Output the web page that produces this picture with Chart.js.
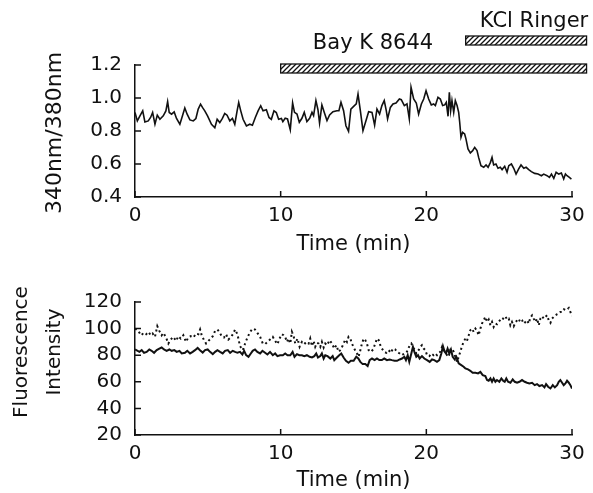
<!DOCTYPE html>
<html>
<head>
<meta charset="utf-8">
<script src="https://cdn.jsdelivr.net/npm/chart.js@4.4.0/dist/chart.umd.min.js"></script>
<style>
  html, body { margin: 0; padding: 0; background: #fff; }
  canvas { display: block; }
</style>
</head>
<body>
<canvas id="ratioChart" width="593" height="260"></canvas>
<canvas id="fluoChart" width="593" height="233"></canvas>
<script>
// top panel: 340/380 ratio
const ratioTime = [
  0.00, 0.16, 0.34, 0.53, 0.68, 0.91, 1.07, 1.21, 1.37, 1.53, 1.71, 1.94, 2.12, 2.24, 2.35, 2.51, 2.69, 2.85, 3.08, 3.26,
  3.42, 3.58, 3.77, 4.00, 4.18, 4.34, 4.50, 4.63, 4.79, 4.98, 5.25, 5.48, 5.64, 5.82, 6.00, 6.16, 6.32, 6.51, 6.69, 6.85,
  7.01, 7.12, 7.26, 7.42, 7.65, 7.88, 8.06, 8.26, 8.45, 8.63, 8.79, 9.02, 9.20, 9.36, 9.54, 9.70, 9.86, 10.05,
  10.15, 10.31, 10.47, 10.66, 10.82, 10.95, 11.12, 11.28, 11.46, 11.62, 11.80, 11.99, 12.15, 12.26, 12.42, 12.56, 12.67, 12.83, 12.99, 13.18,
  13.36, 13.59, 13.86, 14.00, 14.14, 14.32, 14.48, 14.66, 14.82, 15.01, 15.19, 15.31, 15.47, 15.65, 15.86, 16.04, 16.27, 16.45, 16.61, 16.79,
  16.95, 17.11, 17.25, 17.34, 17.53, 17.71, 17.92, 18.15, 18.28, 18.49, 18.67, 18.83, 18.95, 19.13, 19.31, 19.47, 19.66, 19.82, 19.98, 20.16,
  20.34, 20.50, 20.62, 20.80, 20.96, 21.12, 21.26, 21.37, 21.49, 21.58, 21.67, 21.76, 21.88, 21.99, 22.11, 22.22, 22.29, 22.38, 22.49, 22.63,
  22.72, 22.86, 23.02, 23.18, 23.32, 23.48, 23.59, 23.75, 23.94, 24.10, 24.24, 24.40, 24.51, 24.62, 24.78, 24.92, 25.08, 25.20, 25.38, 25.54,
  25.66, 25.84, 26.00, 26.16, 26.34, 26.50, 26.69, 26.85, 27.03, 27.21, 27.44, 27.67, 27.90, 28.06, 28.29, 28.45, 28.59, 28.75, 28.91, 29.09,
  29.27, 29.43, 29.55, 29.66, 29.82, 29.96
];
const ratioValue = [
  0.912, 0.861, 0.892, 0.922, 0.855, 0.861, 0.882, 0.912, 0.841, 0.896, 0.871, 0.892, 0.922, 0.978, 0.912, 0.902, 0.916, 0.876, 0.841, 0.892,
  0.939, 0.902, 0.867, 0.861, 0.876, 0.933, 0.963, 0.943, 0.922, 0.892, 0.841, 0.820, 0.871, 0.851, 0.876, 0.906, 0.896, 0.861, 0.876, 0.841,
  0.922, 0.973, 0.922, 0.871, 0.831, 0.841, 0.835, 0.882, 0.922, 0.953, 0.922, 0.929, 0.882, 0.871, 0.922, 0.912, 0.871, 0.876,
  0.857, 0.877, 0.873, 0.808, 0.970, 0.913, 0.903, 0.853, 0.877, 0.913, 0.857, 0.877, 0.913, 0.893, 0.984, 0.929, 0.848, 0.958, 0.913, 0.863,
  0.897, 0.917, 0.923, 0.923, 0.974, 0.923, 0.832, 0.798, 0.933, 0.949, 0.964, 1.024, 0.923, 0.802, 0.863, 0.917, 0.913, 0.836, 0.933, 0.903,
  0.954, 0.984, 0.923, 0.873, 0.943, 0.964, 0.970, 0.994, 0.990, 0.954, 0.964, 0.873, 1.065, 0.994, 0.970, 0.903, 0.964, 0.994, 1.044, 0.994,
  0.958, 0.964, 0.954, 1.004, 0.994, 0.954, 0.958, 0.974, 0.889, 1.034, 0.923, 0.984, 0.913, 0.984, 0.954, 0.913, 0.853, 0.762, 0.792, 0.782,
  0.752, 0.691, 0.667, 0.681, 0.701, 0.681, 0.640, 0.590, 0.580, 0.594, 0.580, 0.610, 0.640, 0.594, 0.600, 0.574, 0.580, 0.566, 0.586, 0.550,
  0.590, 0.600, 0.574, 0.539, 0.570, 0.594, 0.574, 0.580, 0.566, 0.554, 0.543, 0.539, 0.529, 0.539, 0.529, 0.519, 0.539, 0.513, 0.550, 0.539,
  0.545, 0.509, 0.539, 0.529, 0.519, 0.509
];

// bottom panel: fluorescence at 340 nm (solid) and 380 nm (dotted)
const f340Time = [
  0.00, 0.30, 0.46, 0.62, 0.80, 0.98, 1.14, 1.31, 1.49, 1.67, 1.83, 1.99, 2.17, 2.36, 2.52, 2.70, 2.86, 3.05, 3.21, 3.43,
  3.59, 3.78, 3.96, 4.12, 4.30, 4.46, 4.65, 4.81, 4.99, 5.15, 5.34, 5.50, 5.66, 5.84, 6.02, 6.18, 6.37, 6.53, 6.71, 6.87,
  7.03, 7.21, 7.37, 7.49, 7.63, 7.79, 7.95, 8.08, 8.24, 8.40, 8.59, 8.75, 8.93, 9.09, 9.27, 9.46, 9.62, 9.78, 9.96,
  10.15, 10.31, 10.47, 10.66, 10.82, 10.95, 11.12, 11.28, 11.46, 11.62, 11.80, 11.99, 12.15, 12.31, 12.44, 12.56, 12.72, 12.83, 12.95, 13.06,
  13.22, 13.41, 13.57, 13.68, 13.86, 14.02, 14.16, 14.32, 14.48, 14.66, 14.82, 15.01, 15.19, 15.33, 15.47, 15.63, 15.81, 15.97, 16.11, 16.27,
  16.45, 16.61, 16.77, 16.95, 17.11, 17.30, 17.48, 17.64, 17.82, 17.99, 18.17, 18.33, 18.49, 18.60, 18.72, 18.83, 18.97, 19.08, 19.18, 19.31,
  19.43, 19.54, 19.70, 19.86, 20.05, 20.23, 20.39, 20.55, 20.73, 20.89, 21.03, 21.14, 21.26, 21.35, 21.46, 21.58, 21.69, 21.81, 21.95, 22.06,
  22.22, 22.40, 22.56, 22.68, 22.86, 23.02, 23.18, 23.37, 23.55, 23.71, 23.87, 24.05, 24.17, 24.28, 24.40, 24.51, 24.62, 24.74, 24.85, 25.01,
  25.15, 25.27, 25.38, 25.49, 25.61, 25.77, 25.93, 26.07, 26.23, 26.39, 26.57, 26.75, 26.91, 27.07, 27.26, 27.44, 27.60, 27.76, 27.95, 28.11,
  28.22, 28.36, 28.52, 28.68, 28.82, 28.98, 29.09, 29.20, 29.32, 29.43, 29.55, 29.66, 29.78, 29.89, 30.00
];
const f340Value = [
  84.3, 82.5, 83.8, 81.8, 82.5, 84.3, 83.3, 81.8, 83.8, 85.0, 85.8, 84.3, 83.3, 84.3, 83.3, 83.8, 82.5, 83.3, 81.3, 81.8,
  83.3, 81.3, 82.5, 83.8, 85.5, 83.8, 82.0, 83.8, 84.3, 82.5, 80.8, 82.5, 83.8, 82.5, 81.3, 83.3, 83.8, 81.8, 83.3, 82.5,
  81.8, 82.5, 80.5, 83.3, 80.0, 78.8, 81.3, 83.3, 84.3, 82.5, 81.3, 83.3, 81.8, 80.5, 82.5, 80.0, 81.3, 79.3, 80.0,
  80.0, 81.3, 80.0, 80.0, 82.5, 78.8, 80.8, 80.0, 80.0, 79.3, 80.0, 78.8, 78.3, 79.3, 81.3, 78.3, 79.3, 81.3, 77.5, 80.0,
  79.3, 77.5, 79.3, 76.3, 78.3, 80.0, 81.3, 78.3, 75.8, 74.3, 75.8, 75.8, 78.8, 77.5, 75.0, 73.3, 73.3, 71.8, 76.3, 77.5,
  76.3, 77.5, 76.3, 76.3, 77.5, 76.3, 76.8, 76.3, 75.8, 75.8, 76.8, 77.5, 78.8, 76.3, 80.0, 75.0, 81.3, 86.3, 82.5, 78.8,
  80.0, 77.5, 79.3, 77.5, 76.3, 75.0, 76.8, 76.3, 75.0, 76.3, 81.3, 86.8, 82.5, 81.3, 85.0, 81.3, 84.3, 78.8, 76.8, 78.8,
  73.8, 72.5, 71.3, 70.0, 69.3, 68.3, 66.8, 66.8, 66.3, 67.5, 65.0, 64.3, 61.3, 60.8, 62.5, 60.0, 62.5, 60.0, 61.3, 60.0,
  62.5, 60.8, 60.0, 62.5, 60.0, 59.3, 61.8, 60.0, 59.3, 60.0, 61.3, 60.0, 59.3, 58.8, 59.3, 57.5, 58.3, 56.8, 57.5, 55.8,
  58.3, 56.3, 55.0, 57.5, 55.8, 57.5, 60.0, 61.3, 59.3, 57.5, 58.8, 60.8, 59.3, 57.5, 55.0
];
const f380Time = [
  0.00, 0.23, 0.34, 0.46, 0.57, 0.76, 0.92, 1.08, 1.21, 1.37, 1.53, 1.67, 1.83, 1.95, 2.13, 2.29, 2.45, 2.63, 2.82, 2.98,
  3.14, 3.32, 3.50, 3.66, 3.82, 4.01, 4.19, 4.35, 4.47, 4.58, 4.74, 4.88, 5.04, 5.20, 5.34, 5.50, 5.66, 5.79, 5.95, 6.11,
  6.25, 6.41, 6.57, 6.75, 6.87, 7.03, 7.21, 7.40, 7.56, 7.72, 7.90, 8.08, 8.24, 8.40, 8.59, 8.77, 8.93, 9.09, 9.27, 9.46,
  9.62, 9.78, 9.92, 10.08, 10.20, 10.31, 10.43, 10.54, 10.66, 10.77, 10.89, 11.00, 11.16, 11.30, 11.46, 11.62, 11.76, 11.92, 12.03, 12.15,
  12.26, 12.37, 12.49, 12.60, 12.72, 12.83, 12.95, 13.06, 13.18, 13.36, 13.52, 13.68, 13.82, 13.98, 14.14, 14.32, 14.44, 14.55, 14.66, 14.78,
  14.89, 15.05, 15.24, 15.35, 15.47, 15.58, 15.70, 15.81, 15.92, 16.04, 16.20, 16.34, 16.50, 16.61, 16.73, 16.84, 16.95, 17.11, 17.25, 17.41,
  17.57, 17.71, 17.87, 17.99, 18.17, 18.33, 18.49, 18.63, 18.74, 18.86, 18.97, 19.08, 19.20, 19.31, 19.47, 19.59, 19.70, 19.82, 19.93, 20.05,
  20.21, 20.34, 20.50, 20.62, 20.73, 20.85, 20.96, 21.08, 21.19, 21.30, 21.42, 21.53, 21.65, 21.76, 21.88, 21.99, 22.11, 22.22, 22.33, 22.45,
  22.56, 22.68, 22.79, 22.91, 23.02, 23.14, 23.25, 23.37, 23.48, 23.59, 23.71, 23.82, 23.94, 24.05, 24.17, 24.28, 24.40, 24.51, 24.62, 24.74,
  24.85, 24.97, 25.08, 25.20, 25.31, 25.43, 25.54, 25.66, 25.77, 25.88, 26.00, 26.11, 26.23, 26.34, 26.46, 26.57, 26.69, 26.80, 26.91, 27.03,
  27.14, 27.26, 27.37, 27.49, 27.60, 27.72, 27.83, 27.95, 28.06, 28.17, 28.29, 28.40, 28.52, 28.63, 28.75, 28.86, 28.98, 29.09, 29.20, 29.32,
  29.45, 29.60, 29.78, 30.00
];
const f380Value = [
  100.0, 98.3, 96.3, 95.0, 96.8, 95.8, 97.5, 95.0, 96.3, 93.8, 101.8, 98.3, 95.0, 96.8, 93.3, 88.8, 91.8, 93.8, 90.8, 94.3,
  92.5, 95.0, 90.0, 93.3, 94.3, 93.3, 96.3, 95.8, 99.3, 95.0, 91.3, 88.8, 90.8, 92.5, 94.3, 98.3, 99.3, 97.5, 94.3, 93.3,
  95.8, 91.8, 93.3, 96.3, 99.3, 95.8, 86.8, 83.8, 88.8, 93.3, 97.5, 100.0, 99.3, 96.8, 93.8, 88.8, 88.3, 90.0, 91.8, 93.8,
  90.8, 88.3, 92.5, 95.8, 95.0, 93.8, 90.0, 92.5, 88.8, 97.5, 94.3, 88.8, 92.5, 86.3, 90.0, 88.3, 90.0, 88.8, 92.5, 86.8,
  90.8, 86.3, 89.3, 88.8, 86.3, 90.0, 85.8, 88.8, 87.5, 91.3, 88.8, 85.0, 87.5, 82.5, 84.3, 88.8, 91.8, 90.0, 93.8, 92.5,
  88.8, 85.0, 81.3, 78.8, 83.8, 88.8, 92.5, 91.3, 88.8, 83.8, 82.5, 84.3, 88.8, 92.5, 91.3, 87.5, 85.0, 82.5, 81.8, 83.8,
  81.8, 85.0, 84.3, 82.5, 81.3, 80.0, 81.3, 81.8, 84.3, 87.5, 88.8, 85.8, 84.3, 81.3, 83.8, 86.3, 87.5, 85.0, 83.8, 80.0,
  79.3, 81.3, 80.0, 81.3, 80.0, 81.8, 82.5, 86.3, 83.8, 82.5, 80.0, 78.8, 84.3, 85.0, 82.5, 78.8, 75.0, 78.8, 82.5, 86.8,
  90.0, 92.5, 90.8, 95.0, 98.8, 100.0, 97.5, 100.0, 98.3, 95.0, 100.0, 103.8, 106.3, 108.8, 105.0, 106.8, 102.5, 105.0, 101.3, 103.8,
  103.3, 105.0, 106.8, 106.3, 108.3, 109.3, 106.8, 107.5, 102.5, 105.0, 101.8, 104.3, 106.3, 105.0, 107.5, 106.3, 103.8, 105.0, 106.3, 103.8,
  108.3, 110.0, 107.5, 105.0, 107.5, 102.5, 107.5, 109.3, 107.5, 108.8, 110.0, 106.3, 104.3, 107.5, 108.8, 110.0, 110.8, 111.3, 112.5, 112.5,
  114.5, 113.8, 115.5, 109.5
];

// treatment bars above the top panel
const drugNames = ['Bay K 8644', 'KCl Ringer'];
const drugStart = [10, 22.7];
const drugEnd = [31, 31];

const FONT = '"DejaVu Sans", sans-serif';
const INK = '#111';

function points(xs, ys) {
  return xs.map((t, i) => ({ x: t, y: ys[i] }));
}

// ticks pointing into the plot, like the original figure
const innerTicks = {
  id: 'innerTicks',
  afterDraw(chart) {
    const ctx = chart.ctx, area = chart.chartArea;
    const xs = chart.scales.x, ys = chart.scales.y;
    ctx.save();
    ctx.strokeStyle = INK;
    ctx.lineWidth = 1.5;
    ctx.beginPath();
    ys.ticks.forEach(t => {
      const py = ys.getPixelForValue(t.value);
      ctx.moveTo(area.left, py);
      ctx.lineTo(area.left + 6, py);
    });
    xs.ticks.forEach(t => {
      const px = xs.getPixelForValue(t.value);
      ctx.moveTo(px, area.bottom);
      ctx.lineTo(px, area.bottom - 6);
    });
    ctx.stroke();
    ctx.restore();
  }
};

// rotated y title, one or more lines
const yTitle = {
  id: 'yTitle',
  afterDraw(chart, args, opts) {
    const ctx = chart.ctx;
    ctx.save();
    ctx.translate(opts.x, opts.y);
    ctx.rotate(-Math.PI / 2);
    ctx.font = opts.size + 'px ' + FONT;
    ctx.fillStyle = INK;
    ctx.textAlign = 'center';
    ctx.textBaseline = 'middle';
    opts.lines.forEach((s, i) => ctx.fillText(s, 0, i * opts.gap));
    ctx.restore();
  }
};

function hatch(ctx) {
  const c = document.createElement('canvas');
  c.width = 5; c.height = 5;
  const g = c.getContext('2d');
  g.strokeStyle = INK;
  g.lineWidth = 1.3;
  g.beginPath();
  g.moveTo(-1, 6); g.lineTo(6, -1);
  g.moveTo(-1, 1); g.lineTo(1, -1);
  g.moveTo(4, 6); g.lineTo(6, 4);
  g.stroke();
  return ctx.createPattern(c, 'repeat');
}

const drugBars = {
  id: 'drugBars',
  afterDraw(chart, args, opts) {
    const ctx = chart.ctx, xs = chart.scales.x;
    const pat = hatch(ctx);
    ctx.save();
    drugNames.forEach((name, i) => {
      const x0 = xs.getPixelForValue(drugStart[i]);
      const x1 = xs.getPixelForValue(drugEnd[i]);
      const top = opts.barTop[i];
      ctx.fillStyle = pat;
      ctx.fillRect(x0, top, x1 - x0, opts.barHeight);
      ctx.strokeStyle = INK;
      ctx.lineWidth = 1.3;
      ctx.strokeRect(x0, top, x1 - x0, opts.barHeight);
      ctx.fillStyle = INK;
      ctx.font = '21px ' + FONT;
      ctx.textAlign = 'center';
      ctx.textBaseline = 'middle';
      ctx.fillText(name, opts.labelX[i], opts.labelY[i]);
    });
    ctx.restore();
  }
};

function axisX(height, titlePad) {
  return {
    type: 'linear', min: 0, max: 30,
    ticks: { stepSize: 10, color: INK, font: { family: FONT, size: 20 }, padding: 7, maxRotation: 0, autoSkip: false },
    grid: { display: false, drawTicks: false },
    border: { color: INK, width: 1.5 },
    title: { display: true, text: 'Time (min)', color: INK, font: { family: FONT, size: 21 }, padding: { top: 0, bottom: titlePad } },
    afterFit(s) { s.height = height; }
  };
}

function axisY(min, max, step, fmt) {
  return {
    min: min, max: max,
    ticks: { stepSize: step, color: INK, font: { family: FONT, size: 20 }, padding: 13, callback: fmt, autoSkip: false },
    grid: { display: false, drawTicks: false },
    border: { color: INK, width: 1.5 },
    afterFit(s) { s.width = 135; }
  };
}

new Chart(document.getElementById('ratioChart'), {
  type: 'line',
  data: {
    datasets: [{
      data: points(ratioTime, ratioValue),
      borderColor: INK, borderWidth: 1.6, pointRadius: 0, tension: 0
    }]
  },
  options: {
    responsive: false,
    animation: false,
    layout: { padding: { top: 65, right: 21, left: 0, bottom: 0 } },
    plugins: {
      legend: { display: false },
      tooltip: { enabled: false },
      yTitle: { lines: ['340nm/380nm'], x: 55, y: 133, size: 22, gap: 0 },
      drugBars: { barTop: [64, 36], barHeight: 9, labelX: [373, 534], labelY: [44, 22] }
    },
    scales: {
      x: axisX(63, 3),
      y: axisY(0.4, 1.2, 0.2, v => v.toFixed(1))
    }
  },
  plugins: [innerTicks, yTitle, drugBars]
});

new Chart(document.getElementById('fluoChart'), {
  type: 'line',
  data: {
    datasets: [{
      data: points(f340Time, f340Value),
      borderColor: INK, borderWidth: 2, pointRadius: 0, tension: 0
    }, {
      data: points(f380Time, f380Value),
      borderColor: INK, borderWidth: 2, borderDash: [2, 3], pointRadius: 0, tension: 0
    }]
  },
  options: {
    responsive: false,
    animation: false,
    layout: { padding: { top: 42, right: 21, left: 0, bottom: 0 } },
    plugins: {
      legend: { display: false },
      tooltip: { enabled: false },
      yTitle: { lines: ['Fluorescence', 'Intensity'], x: 22, y: 92, size: 20, gap: 33 }
    },
    scales: {
      x: axisX(58, 0),
      y: axisY(20, 120, 20, v => v)
    }
  },
  plugins: [innerTicks, yTitle]
});
</script>
</body>
</html>
